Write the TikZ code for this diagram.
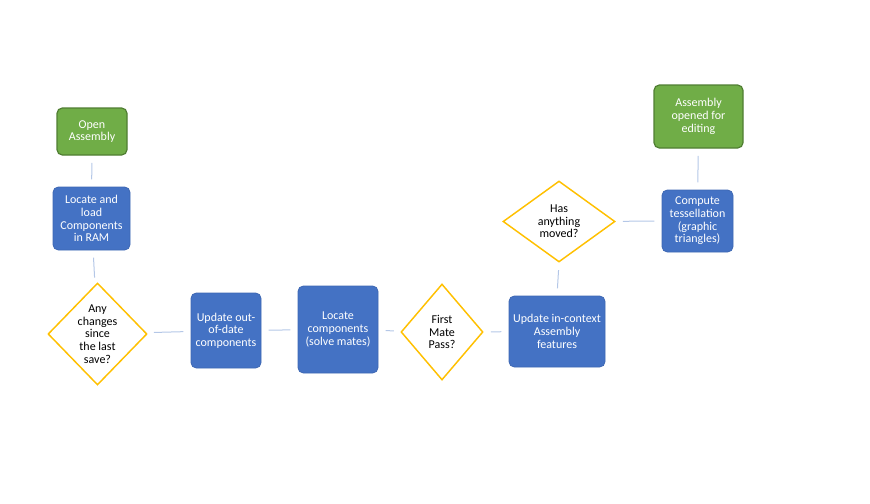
\documentclass[tikz,border=0pt]{standalone}
\usepackage{fontspec}
\setmainfont{Carlito}
\usetikzlibrary{shapes.geometric}
\definecolor{stepblue}{HTML}{4472C4}
\definecolor{stepblueline}{HTML}{3D67B3}
\definecolor{endgreen}{HTML}{70AD47}
\definecolor{endgreenline}{HTML}{507E32}
\definecolor{askgold}{HTML}{FFC000}
\definecolor{linkblue}{HTML}{B4C7E7}

\begin{document}
\begin{tikzpicture}[x=0.75pt,y=-0.75pt]
\tikzset{
    stepbox/.style={
           rectangle,
           rounded corners=4pt,
           fill=stepblue,
           draw=stepblueline,
           line width=0.6pt,
           text=white,
           align=center,
           inner sep=0pt,
           font=\fontsize{9}{9.5}\selectfont},
    endbox/.style={
           stepbox,
           fill=endgreen,
           draw=endgreenline,
           line width=0.9pt},
    askbox/.style={
           diamond,
           fill=white,
           draw=askgold,
           line width=1.1pt,
           text=black,
           align=center,
           inner sep=0pt,
           font=\fontsize{9}{9.5}\selectfont},
    % Define connector style
    link/.style={
           draw=linkblue,
           line width=0.75pt,
           shorten >=5.5pt,
           shorten <=5.5pt}
}
\useasboundingbox (0,0) rectangle (870,503);
\node[endbox,minimum width=52.5pt,minimum height=35.25pt] (open) at (92,131.5) {Open\\Assembly};
\node[stepbox,minimum width=57.75pt,minimum height=47.25pt] (load) at (91.5,218.5) {Locate and\\load\\Components\\in RAM};
\node[askbox,minimum width=74.25pt,minimum height=76.5pt] (changes) at (97.5,334) {Any\\changes\\since\\the last\\save?};
\node[stepbox,minimum width=52.5pt,minimum height=56.25pt] (update) at (226,330.5) {Update out-\\of-date\\components};
\node[stepbox,minimum width=60pt,minimum height=65.25pt] (locate) at (338,329.5) {Locate\\components\\(solve mates)};
\node[askbox,minimum width=61.5pt,minimum height=72pt] (firstpass) at (442,332) {First\\Mate\\Pass?};
\node[stepbox,minimum width=72pt,minimum height=53.25pt] (incontext) at (557,331.5) {Update in-context\\Assembly\\features};
\node[askbox,minimum width=84pt,minimum height=60.75pt] (moved) at (559,221.5) {Has\\anything\\moved?};
\node[stepbox,minimum width=53.25pt,minimum height=46.5pt] (tessellate) at (697.5,221) {Compute\\tessellation\\(graphic\\triangles)};
\node[endbox,minimum width=66.75pt,minimum height=47.25pt] (opened) at (698.5,116.5) {Assembly\\opened for\\editing};
\draw[link] (open) -- (load);
\draw[link] (load) -- (changes);
\draw[link] (changes) -- (update);
\draw[link] (update) -- (locate);
\draw[link] (locate) -- (firstpass);
\draw[link] (firstpass) -- (incontext);
\draw[link] (incontext.north) -- (moved.south);
\draw[link] (moved) -- (tessellate);
\draw[link] (tessellate) -- (opened);
\end{tikzpicture}
\end{document}
